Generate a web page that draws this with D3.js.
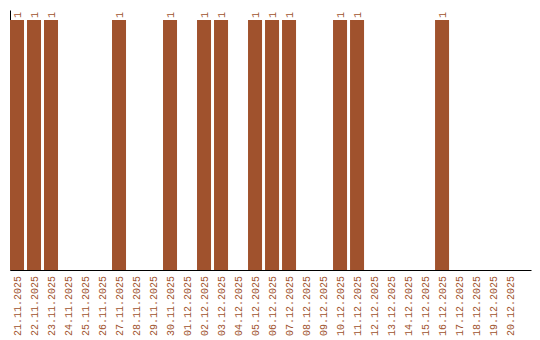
<!DOCTYPE html>
<html>
<head>
<meta charset="utf-8">
<script src="https://cdn.jsdelivr.net/npm/d3@7"></script>
<style>
  body { margin: 0; background: #fff; }
  svg text { font-family: "Liberation Mono", "Cousine", monospace; font-size: 10px; fill: #A0522D; }
</style>
</head>
<body>
<svg id="chart" width="540" height="340"></svg>
<script>
// dates shown on the x axis
const dates = [
  "21.11.2025", "22.11.2025", "23.11.2025", "24.11.2025", "25.11.2025",
  "26.11.2025", "27.11.2025", "28.11.2025", "29.11.2025", "30.11.2025",
  "01.12.2025", "02.12.2025", "03.12.2025", "04.12.2025", "05.12.2025",
  "06.12.2025", "07.12.2025", "08.12.2025", "09.12.2025", "10.12.2025",
  "11.12.2025", "12.12.2025", "13.12.2025", "14.12.2025", "15.12.2025",
  "16.12.2025", "17.12.2025", "18.12.2025", "19.12.2025", "20.12.2025"
];
// count per day
const counts = [
  1, 1, 1, 0, 0, 0, 1, 0, 0, 1,
  0, 1, 1, 0, 1, 1, 1, 0, 0, 1,
  1, 0, 0, 0, 0, 1, 0, 0, 0, 0
];

const barColor = "#A0522D";
const data = dates.map((d, i) => ({ date: d, value: counts[i] }));

const svg = d3.select("#chart");

const x = d3.scaleBand()
  .domain(dates)
  .range([10, 531])
  .paddingInner(0.176)
  .paddingOuter(0.41)
  .align(0);

const y = d3.scaleLinear()
  .domain([0, 1.04])
  .range([270, 10]);

// y axis (line only), drawn first so bars sit on top
svg.append("g")
  .attr("transform", "translate(10,0)")
  .call(d3.axisLeft(y).tickValues([]).tickSizeOuter(0))
  .call((g) => g.select(".domain").attr("stroke", "#000"));

// x axis
const xAxis = svg.append("g")
  .attr("transform", "translate(0,270)")
  .call(d3.axisBottom(x).tickSize(0).tickSizeOuter(0));

xAxis.select(".domain").attr("stroke", "#000");
xAxis.selectAll("text")
  .attr("transform", "rotate(-90)")
  .attr("x", -6)
  .attr("y", 0)
  .attr("dy", "0.35em")
  .attr("text-anchor", "end")
  .style("font-family", "'Liberation Mono', 'Cousine', monospace")
  .style("font-size", "10px")
  .attr("fill", barColor);

// bars
svg.append("g")
  .selectAll("rect")
  .data(data.filter((d) => d.value > 0))
  .join("rect")
  .attr("x", (d) => x(d.date))
  .attr("y", (d) => y(d.value))
  .attr("width", x.bandwidth())
  .attr("height", (d) => y(0) - y(d.value))
  .attr("fill", barColor);

// value labels above bars
svg.append("g")
  .selectAll("text")
  .data(data.filter((d) => d.value > 0))
  .join("text")
  .attr("transform", (d) => `translate(${x(d.date) + x.bandwidth() / 2},${y(d.value) - 2}) rotate(-90)`)
  .attr("dy", "0.35em")
  .attr("text-anchor", "start")
  .text((d) => d.value);
</script>
</body>
</html>
